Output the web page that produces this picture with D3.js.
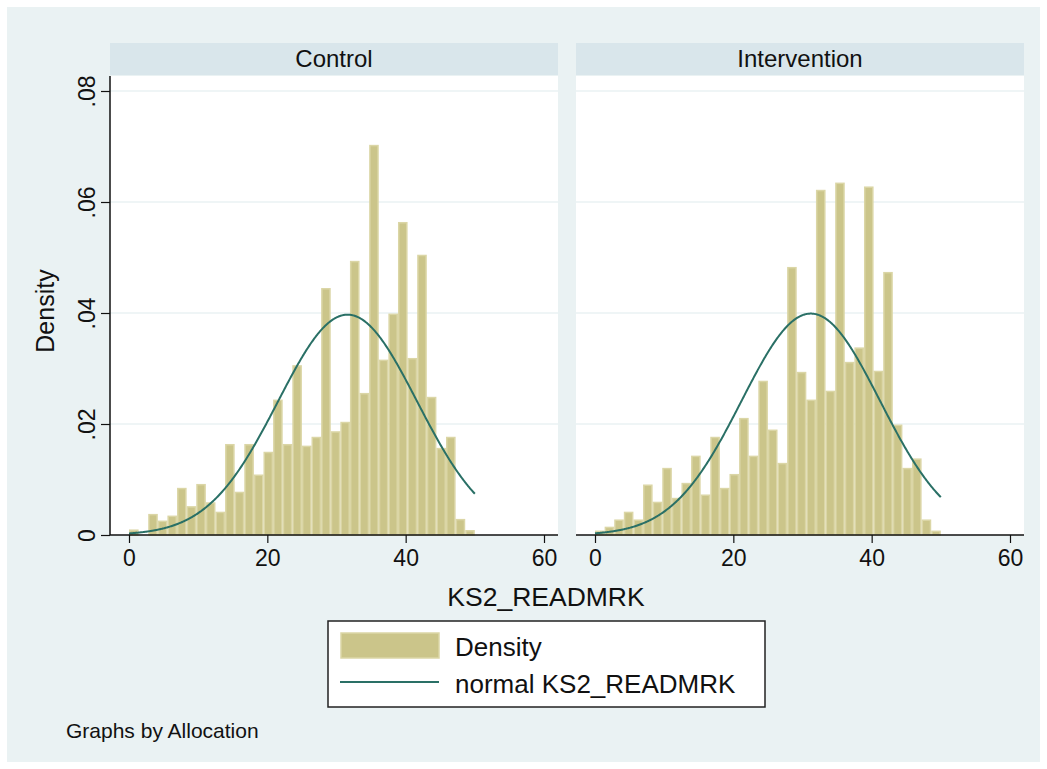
<!DOCTYPE html>
<html><head><meta charset="utf-8">
<script src="https://cdn.jsdelivr.net/npm/d3@7"></script>
<style>body{margin:0;background:#fff}svg{display:block;font-family:"Liberation Sans",Arial,sans-serif}</style>
</head><body><svg id="c" width="1047" height="769"></svg>
<script>
const panels = ["Control", "Intervention"];
const binMin = 0, binMax = 50, nBins = 36;
const controlDensity = [0.0010,0,0.0038,0.0026,0.0035,0.0085,0.0052,0.0092,0.0059,0.0042,0.0164,0.0078,0.0164,0.0109,0.0150,0.0244,0.0164,0.0306,0.0161,0.0177,0.0445,0.0187,0.0204,0.0494,0.0256,0.0703,0.0316,0.0399,0.0564,0.0319,0.0505,0.0249,0.0157,0.0177,0.0029,0.0009];
const interventionDensity = [0.0008,0.0015,0.0028,0.0042,0.0028,0.0091,0.0060,0.0121,0.0067,0.0094,0.0143,0.0073,0.0177,0.0085,0.0110,0.0211,0.0143,0.0278,0.0190,0.0130,0.0483,0.0294,0.0244,0.0622,0.0260,0.0635,0.0312,0.0338,0.0628,0.0296,0.0474,0.0199,0.0121,0.0138,0.0028,0.0008];
const normalMean = [31.6, 31.2];
const normalSD = [10.05, 10.0];
const xTicks = [0, 20, 40, 60];
const yTicks = [0, 0.02, 0.04, 0.06, 0.08];
const yTickLabels = ["0", ".02", ".04", ".06", ".08"];
const xTitle = "KS2_READMRK";
const yTitle = "Density";
const legendLabels = ["Density", "normal KS2_READMRK"];
const note = "Graphs by Allocation";

const data = [controlDensity, interventionDensity];
const svg = d3.select("#c");
const BG = "#eaf2f3", HEAD = "#d9e6eb", BAR = "#cbc58a", BARS = "#dbd6a6", LINE = "#2a7066";
const FONT = "Liberation Sans, Arial, sans-serif";

svg.append("rect").attr("x",7).attr("y",7).attr("width",1033).attr("height",755).attr("fill",BG);

const panelX = [110, 576], panelW = 448;
const plotTop = 76, plotBottom = 535;
const y = d3.scaleLinear().domain([0, 0.08]).range([plotBottom, 91]);
const binW = (binMax - binMin) / nBins;

panels.forEach((name, p) => {
  const x0 = panelX[p];
  const x = d3.scaleLinear().domain([0, 60]).range([x0 + 19, x0 + 434]);
  const g = svg.append("g");
  g.append("rect").attr("x", x0).attr("y", 43).attr("width", panelW).attr("height", 32).attr("fill", HEAD);
  g.append("text").attr("x", x0 + panelW/2).attr("y", 67).attr("text-anchor","middle").attr("font-size",24).attr("fill","#111").text(name);
  g.append("rect").attr("x", x0).attr("y", plotTop).attr("width", panelW).attr("height", plotBottom - plotTop).attr("fill", "#fff");
  g.selectAll(".grid").data(yTicks.slice(1)).join("line")
    .attr("x1", x0).attr("x2", x0 + panelW).attr("y1", d => y(d)).attr("y2", d => y(d))
    .attr("stroke", BG).attr("stroke-width", 1.5);
  g.selectAll(".bar").data(data[p]).join("rect")
    .attr("x", (d,i) => x(binMin + i*binW) + 0.75)
    .attr("width", (d,i) => x(binMin + (i+1)*binW) - x(binMin + i*binW) - 1.5)
    .attr("y", d => y(d) + 0.75)
    .attr("height", d => Math.max(0, plotBottom - y(d) - 0.75))
    .attr("fill", BAR).attr("stroke", BARS).attr("stroke-width", 1.5)
    .attr("display", d => d > 0 ? null : "none");
  const mu = normalMean[p], sd = normalSD[p];
  const pts = d3.range(0, 501).map(i => binMin + (binMax - binMin) * i / 500);
  const line = d3.line().x(v => x(v)).y(v => y(Math.exp(-0.5*((v-mu)/sd)**2) / (sd*Math.sqrt(2*Math.PI))));
  g.append("path").attr("d", line(pts)).attr("fill","none").attr("stroke",LINE).attr("stroke-width",2);
  const xa = g.append("g").attr("transform", `translate(0,${plotBottom})`)
    .call(d3.axisBottom(x).tickValues(xTicks).tickSize(8).tickPadding(6).tickSizeOuter(0));
  xa.select(".domain").attr("d", `M${x0},0H${x0+panelW}`).attr("stroke","#111").attr("stroke-width",1.5);
  xa.selectAll("text").attr("font-size",23).attr("fill","#111").attr("font-family",FONT).attr("dy","0.72em");
  xa.selectAll(".tick line").attr("stroke","#111").attr("stroke-width",1.2);
  if (p === 0) {
    const ya = g.append("g").attr("transform", `translate(${x0},0)`)
      .call(d3.axisLeft(y).tickValues(yTicks).tickFormat((d,i) => yTickLabels[i]).tickSize(9).tickSizeOuter(0));
    ya.select(".domain").attr("d", `M0,${plotTop}V${plotBottom}`).attr("stroke","#111").attr("stroke-width",1.5);
    ya.selectAll(".tick line").attr("stroke","#111").attr("stroke-width",1.2);
    ya.selectAll("text").attr("font-size",23).attr("fill","#111").attr("font-family",FONT)
      .attr("x", null).attr("dy", null).attr("text-anchor","middle")
      .attr("transform","translate(-23,0) rotate(-90)").attr("y", 0).attr("dy","0.35em");
  }
});

svg.append("text").attr("x", 546).attr("y", 606).attr("text-anchor","middle").attr("font-size",26.5).attr("fill","#111").text(xTitle);
svg.append("text").attr("transform","translate(54,311) rotate(-90)").attr("text-anchor","middle").attr("font-size",25).attr("fill","#111").text(yTitle);

const lg = svg.append("g");
lg.append("rect").attr("x",328).attr("y",621).attr("width",437).attr("height",86).attr("fill","#fff").attr("stroke","#222").attr("stroke-width",1.5);
lg.append("rect").attr("x",341).attr("y",633).attr("width",98).attr("height",25).attr("fill",BAR).attr("stroke",BARS).attr("stroke-width",1.5);
lg.append("line").attr("x1",340).attr("x2",439).attr("y1",682).attr("y2",682).attr("stroke",LINE).attr("stroke-width",2);
lg.append("text").attr("x",455).attr("y",656).attr("font-size",26).attr("fill","#111").text(legendLabels[0]);
lg.append("text").attr("x",455).attr("y",693).attr("font-size",26).attr("fill","#111").text(legendLabels[1]);

svg.append("text").attr("x",66).attr("y",738).attr("font-size",21).attr("fill","#111").text(note);
</script></body></html>
